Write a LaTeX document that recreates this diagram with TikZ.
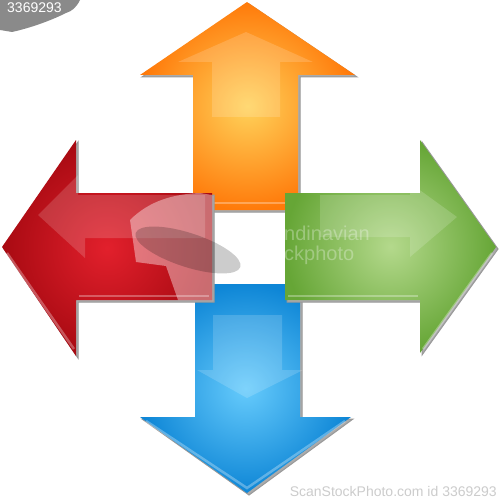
\documentclass[tikz,border=0pt]{standalone}
\usepackage{fontspec}
\setsansfont{Liberation Sans}
\definecolor{orangeout}{HTML}{FF7A0A}
\definecolor{orangein}{HTML}{FFD25A}
\definecolor{redout}{HTML}{A80A12}
\definecolor{redin}{HTML}{E2202C}
\definecolor{greenout}{HTML}{66A636}
\definecolor{greenin}{HTML}{B4D98C}
\definecolor{blueout}{HTML}{0E86D6}
\definecolor{bluein}{HTML}{66CBFC}
\definecolor{markgray}{HTML}{8A8A8A}

\begin{document}
\begin{tikzpicture}[x=1pt,y=-1pt,
  shadowpart/.style={fill=black!33,draw=black!40,line width=1pt,shift={(2,2)}},
  glare/.style={fill=white,opacity=0.16},
  bevel/.style={white,opacity=0.3,line width=2.5pt},
  markfont/.style={font=\sffamily\fontsize{14}{14}\selectfont}]
 \useasboundingbox (0,0) rectangle (499,500);
 \fill[white] (0,0) rectangle (499,500);

 % up (orange)
 \filldraw[shadowpart] (247,2)--(355,75)--(298,75)--(298,210)--(193,210)--(193,75)--(140,75)--cycle;
 \shade[inner color=orangein,outer color=orangeout] (247,2)--(355,75)--(298,75)--(298,210)--(193,210)--(193,75)--(140,75)--cycle;
 \fill[glare] (246,32)--(313,62)--(280,62)--(280,117)--(212,117)--(212,62)--(178,62)--cycle;
 \draw[bevel] (196,203)--(295,203);

 % down (blue)
 \filldraw[shadowpart] (195,284)--(300,284)--(300,417)--(351,417)--(247,493)--(140,417)--(195,417)--cycle;
 \shade[inner color=bluein,outer color=blueout] (195,284)--(300,284)--(300,417)--(351,417)--(247,493)--(140,417)--(195,417)--cycle;
 \fill[glare] (213,315)--(282,315)--(282,370)--(303,370)--(247,398)--(197,370)--(213,370)--cycle;
 \draw[bevel] (146,421)--(247,488)--(345,421);

 % left (red)
 \filldraw[shadowpart] (2,247)--(76,140)--(76,193)--(212,193)--(212,300)--(76,300)--(76,356)--cycle;
 \shade[inner color=redin,outer color=redout] (2,247)--(76,140)--(76,193)--(212,193)--(212,300)--(76,300)--(76,356)--cycle;
 \fill[glare] (38,215)--(78,175)--(78,195)--(205,195)--(205,238)--(85,238)--(85,258)--cycle;
 \draw[bevel] (7,253)--(74,349);
 \draw[bevel] (79,296)--(209,296);

 % right (green)
 \filldraw[shadowpart] (285,193)--(420,193)--(420,140)--(496,247)--(420,353)--(420,300)--(285,300)--cycle;
 \shade[inner color=greenin,outer color=greenout] (285,193)--(420,193)--(420,140)--(496,247)--(420,353)--(420,300)--(285,300)--cycle;
 \fill[glare] (320,195)--(410,195)--(410,183)--(457,217)--(410,257)--(410,237)--(320,237)--cycle;
 \draw[bevel] (492,253)--(423,349);
 \draw[bevel] (288,296)--(418,296);

 % watermark
 \fill[white,opacity=0.4] (130,220) .. controls (150,200) and (175,194) .. (200,193)--(212,195)--(212,300)--(178,300)--(166,266)--(136,262)--cycle;
 \fill[black,opacity=0.2,rotate around={-18:(188,250)}] (188,250) ellipse (55 and 17);
 \node[font=\sffamily\fontsize{20}{20}\selectfont,white,opacity=0.3,anchor=base west,align=left,inner sep=0pt] (markmid) at (284,260) {ndinavian\\ckphoto};
 \fill[markgray] (0,0)--(80,0) .. controls (76,8) and (72,11) .. (66,13) .. controls (50,21) and (30,28) .. (12,32)--(0,30)--cycle;
 \node[markfont,white,anchor=base west,inner sep=0pt] (markid) at (7,13) {3369293};
 \node[markfont,black!20,anchor=base east,inner sep=0pt] (markfoot) at (497,496) {ScanStockPhoto.com id 3369293};
\end{tikzpicture}
\end{document}
